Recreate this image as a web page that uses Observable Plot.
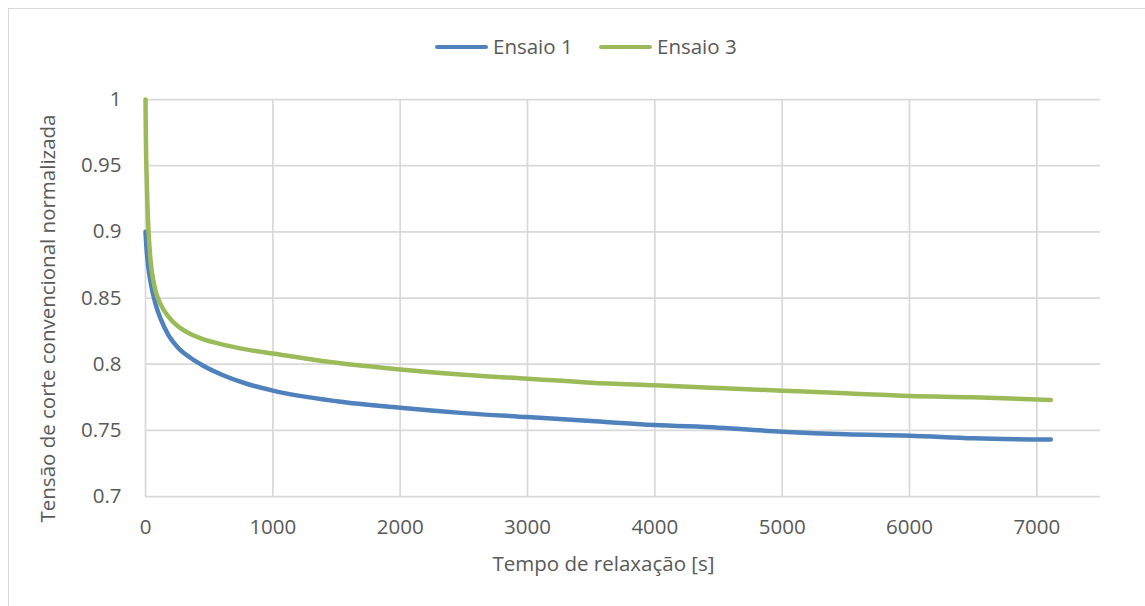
<!DOCTYPE html>
<html>
<head>
<meta charset="utf-8">
<script src="https://cdn.jsdelivr.net/npm/d3@7"></script>
<script src="https://cdn.jsdelivr.net/npm/@observablehq/plot@0.6"></script>
<style>
  body { margin: 0; background: #fff; font-family: "Open Sans", sans-serif; }
  #wrap { position: relative; width: 1145px; height: 606px; overflow: hidden; background: #fff; }
  #border { position: absolute; left: 8px; top: 8px; width: 1300px; height: 800px; border: 1.5px solid #d9d9d9; box-sizing: border-box; pointer-events: none; }
  #legend { position: relative; height: 80px; }
  .sw { position: absolute; top: 45px; width: 53px; height: 4px; border-radius: 2px; }
  .lt { position: absolute; top: 32px; line-height: 28px; font-size: 20.5px; color: #595959; white-space: nowrap; }
  #chart { position: relative; }
</style>
</head>
<body>
<div id="wrap">
  <div id="border"></div>
  <div id="legend"></div>
  <div id="chart"></div>
</div>
<script>
const seriesNames = ["Ensaio 1", "Ensaio 3"];
const seriesColors = ["#4F81BD", "#9BBB59"];

const timeE1 = [0, 10, 20, 40, 80, 120, 180, 250, 350, 450, 600, 800, 1000, 1500, 2000, 2500, 3000, 3500, 4000, 4500, 5000, 5500, 6000, 6500, 7110];
const valE1  = [0.900, 0.885, 0.875, 0.862, 0.845, 0.834, 0.822, 0.813, 0.805, 0.799, 0.792, 0.785, 0.780, 0.772, 0.767, 0.763, 0.760, 0.757, 0.754, 0.752, 0.749, 0.747, 0.746, 0.744, 0.743];

const timeE3 = [0, 3, 8, 15, 25, 40, 60, 80, 120, 180, 250, 350, 450, 600, 800, 1000, 1500, 2000, 2500, 3000, 3500, 4000, 4500, 5000, 5500, 6000, 6500, 7110];
const valE3  = [1.000, 0.970, 0.945, 0.920, 0.898, 0.878, 0.864, 0.855, 0.845, 0.836, 0.829, 0.823, 0.819, 0.815, 0.811, 0.808, 0.801, 0.796, 0.792, 0.789, 0.786, 0.784, 0.782, 0.780, 0.778, 0.776, 0.775, 0.773];

const xTicks = [0, 1000, 2000, 3000, 4000, 5000, 6000, 7000];
const yTicks = [0.7, 0.75, 0.8, 0.85, 0.9, 0.95, 1];

const xTitle = "Tempo de relaxação [s]";
const yTitle = "Tensão de corte convencional normalizada";

const data = [
  ...timeE1.map((t, i) => ({ t, v: valE1[i], series: seriesNames[0] })),
  ...timeE3.map((t, i) => ({ t, v: valE3[i], series: seriesNames[1] }))
];

// legend
const legend = document.getElementById("legend");
const legendPos = [{ sw: 435, tx: 493 }, { sw: 599, tx: 657 }];
seriesNames.forEach((name, i) => {
  const sw = document.createElement("div");
  sw.className = "sw";
  sw.style.left = legendPos[i].sw + "px";
  sw.style.background = seriesColors[i];
  legend.appendChild(sw);
  const tx = document.createElement("div");
  tx.className = "lt";
  tx.style.left = legendPos[i].tx + "px";
  tx.textContent = name;
  legend.appendChild(tx);
});

const gridStyle = { stroke: "#d9d9d9", strokeOpacity: 1, strokeWidth: 1.75 };

const chart = Plot.plot({
  width: 1145,
  height: 526,
  marginTop: 19,
  marginBottom: 110,
  marginLeft: 145,
  marginRight: 45,
  x: { domain: [0, 7500] },
  y: { domain: [0.7, 1] },
  color: { domain: seriesNames, range: seriesColors },
  style: { fontFamily: "Open Sans", fontSize: "20.5px", color: "#595959", background: "transparent", overflow: "visible" },
  marks: [
    Plot.gridX(xTicks, gridStyle),
    Plot.gridY(yTicks, gridStyle),
    Plot.axisX(xTicks, { tickSize: 0, tickPadding: 23, tickFormat: d => String(d), label: null, fill: "#595959" }),
    Plot.axisY(yTicks, { tickSize: 0, tickPadding: 24, tickFormat: d => String(+d.toFixed(2)), label: null, fill: "#595959" }),
    Plot.line(data, { x: "t", y: "v", z: "series", stroke: "series", strokeWidth: 4.5, curve: "monotone-x", strokeLinecap: "round", strokeLinejoin: "round" }),
    Plot.text([xTitle], { text: d => d, frameAnchor: "bottom", textAnchor: "middle", dx: -19.5, dy: 74, fontSize: 20.5, fill: "#595959" }),
    Plot.text([yTitle], { text: d => d, frameAnchor: "left", textAnchor: "middle", rotate: -90, dx: -97, dy: 20.5, fontSize: 20.5, fill: "#595959" })
  ]
});
document.getElementById("chart").appendChild(chart);
</script>
</body>
</html>
